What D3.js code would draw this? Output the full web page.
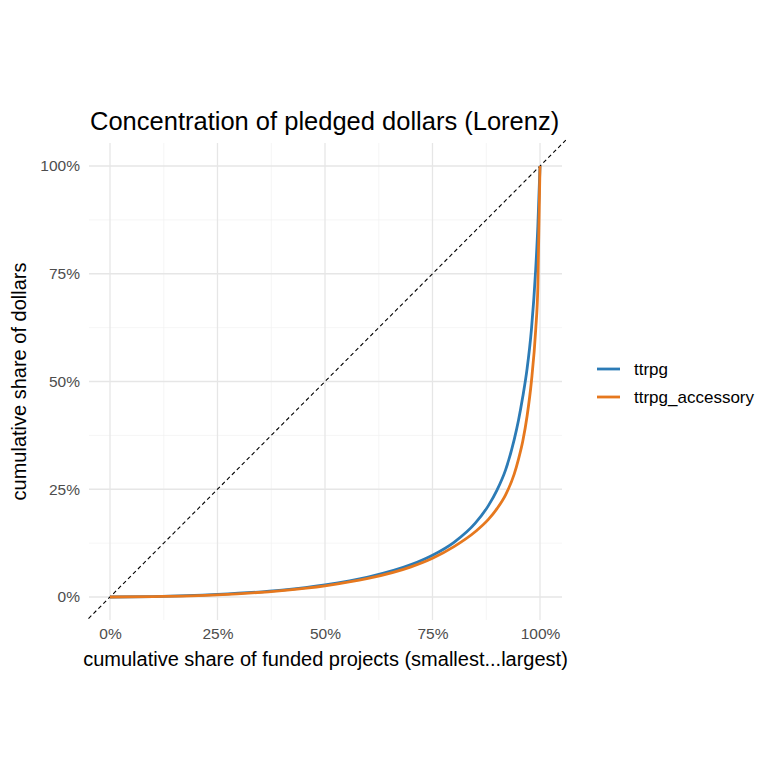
<!DOCTYPE html>
<html><head><meta charset="utf-8">
<script src="https://cdn.jsdelivr.net/npm/d3@7"></script>
<style>body{margin:0;background:#fff}text{font-family:"Liberation Sans",Arial,sans-serif}</style>
</head><body><svg id="c" width="780" height="780"></svg>
<script>
const seriesNames = ["ttrpg","ttrpg_accessory"];
const colors = ["#2c7bb6","#e6781e"];
const xShare = [0,0.1,0.25,0.4,0.5,0.6,0.7,0.75,0.8,0.85,0.88,0.9,0.92,0.94,0.95,0.96,0.97,0.98,0.99,0.995,1];
const ttrpgY = [0,0.001,0.006,0.016,0.028,0.046,0.075,0.097,0.127,0.172,0.212,0.248,0.295,0.365,0.41,0.465,0.53,0.62,0.76,0.86,1];
const accY =   [0,0.001,0.005,0.015,0.026,0.043,0.07,0.09,0.117,0.152,0.18,0.205,0.237,0.285,0.32,0.362,0.42,0.5,0.62,0.72,1];
const tickVals = [0,0.25,0.5,0.75,1];

const svg = d3.select("#c");
const x = d3.scaleLinear().domain([0,1]).range([110,540]);
const y = d3.scaleLinear().domain([0,1]).range([597,166]);
const pL=89,pR=562,pT=143,pB=620;
const g = svg.append("g");
[0.125,0.375,0.625,0.875].forEach(v=>{
  g.append("line").attr("x1",x(v)).attr("x2",x(v)).attr("y1",pT).attr("y2",pB).attr("stroke","#f0f0f0").attr("stroke-width",0.7);
  g.append("line").attr("y1",y(v)).attr("y2",y(v)).attr("x1",pL).attr("x2",pR).attr("stroke","#f0f0f0").attr("stroke-width",0.7);
});
tickVals.forEach(v=>{
  g.append("line").attr("x1",x(v)).attr("x2",x(v)).attr("y1",pT).attr("y2",pB).attr("stroke","#e6e6e6").attr("stroke-width",1.3);
  g.append("line").attr("y1",y(v)).attr("y2",y(v)).attr("x1",pL).attr("x2",pR).attr("stroke","#e6e6e6").attr("stroke-width",1.3);
});
const fmt = d=>Math.round(d*100)+"%";
const xa = svg.append("g").attr("transform",`translate(0,${pB})`).call(d3.axisBottom(x).tickValues(tickVals).tickFormat(fmt).tickSize(0).tickPadding(8));
const ya = svg.append("g").attr("transform",`translate(${pL},0)`).call(d3.axisLeft(y).tickValues(tickVals).tickFormat(fmt).tickSize(0).tickPadding(9));
[xa,ya].forEach(a=>{a.select(".domain").remove();a.selectAll("text").attr("fill","#4d4d4d").attr("font-size",15.5).attr("font-family","Liberation Sans, Arial, sans-serif")});
svg.append("line").attr("x1",x(-0.05)).attr("y1",y(-0.05)).attr("x2",x(1.06)).attr("y2",y(1.06))
  .attr("stroke","#000").attr("stroke-dasharray","4,3").attr("stroke-width",1.1);
const line = d3.line().x((d,i)=>x(xShare[i])).y(d=>y(d)).curve(d3.curveMonotoneX);
[ttrpgY,accY].forEach((s,i)=>svg.append("path").attr("d",line(s)).attr("fill","none").attr("stroke",colors[i]).attr("stroke-width",2.8));
svg.append("text").attr("x",90).attr("y",130).attr("font-size",25.5).text("Concentration of pledged dollars (Lorenz)");
svg.append("text").attr("x",(pL+pR)/2).attr("y",666).attr("text-anchor","middle").attr("font-size",20).text("cumulative share of funded projects (smallest...largest)");
svg.append("text").attr("transform",`translate(26,${(pT+pB)/2}) rotate(-90)`).attr("text-anchor","middle").attr("font-size",20).text("cumulative share of dollars");
seriesNames.forEach((n,i)=>{
  const yy=369+i*28;
  svg.append("line").attr("x1",597).attr("x2",620).attr("y1",yy).attr("y2",yy).attr("stroke",colors[i]).attr("stroke-width",2.8);
  svg.append("text").attr("x",634).attr("y",yy+5.5).attr("font-size",17).text(n);
});
</script></body></html>
